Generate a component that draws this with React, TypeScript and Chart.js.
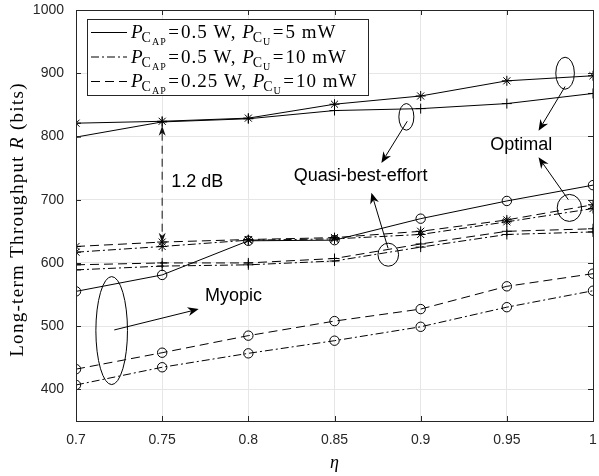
import React, { useEffect, useRef } from "react";
import { Chart, registerables } from "chart.js";

Chart.register(...registerables);

// ---- data ----
const etas = [0.7, 0.75, 0.8, 0.85, 0.9, 0.95, 1];
const xTickLabels = ["0.7", "0.75", "0.8", "0.85", "0.9", "0.95", "1"];
const yTicks = [400, 500, 600, 700, 800, 900, 1000];

// P_CAP = 0.5 W, P_CU = 5 mW (solid)
const optimalA = [821, 824, 829, 851, 864, 888, 896];
const quasiA = [799, 823, 828, 841, 844, 852, 868];
const myopicA = [555, 581, 635, 636, 670, 698, 723];
// P_CAP = 0.5 W, P_CU = 10 mW (dash-dot)
const optimalB = [617, 626, 636, 638, 645, 665, 686];
const quasiB = [589, 595, 597, 603, 625, 645, 649];
const myopicB = [407, 435, 457, 477, 499, 530, 556];
// P_CAP = 0.25 W, P_CU = 10 mW (dashed)
const optimalC = [626, 633, 637, 640, 650, 668, 692];
const quasiC = [597, 600, 600, 607, 630, 650, 654];
const myopicC = [432, 458, 485, 508, 527, 563, 583];

// annotation anchors (data coordinates)
const ellipses = [
  { x: 0.7207, y: 493, rx: 15.8, ry: 54 },
  { x: 0.8917, y: 831, rx: 7.5, ry: 13.3 },
  { x: 0.8812, y: 613, rx: 10.3, ry: 11.5 },
  { x: 0.9838, y: 900, rx: 9.3, ry: 16 },
  { x: 0.9863, y: 687, rx: 12.2, ry: 13.5 },
];
const arrows = [
  { x1: 0.7222, y1: 494, x2: 0.7712, y2: 527 },
  { x1: 0.8922, y1: 824, x2: 0.8772, y2: 758 },
  { x1: 0.8811, y1: 623, x2: 0.8714, y2: 711 },
  { x1: 0.9838, y1: 879, x2: 0.9684, y2: 809 },
  { x1: 0.9857, y1: 700, x2: 0.9684, y2: 767 },
];
const labels = [
  { text: "1.2 dB", x: 0.7553, y: 728 },
  { text: "Quasi-best-effort", x: 0.8263, y: 737 },
  { text: "Optimal", x: 0.9404, y: 786 },
  { text: "Myopic", x: 0.7749, y: 547 },
];
const gapLine = { x: 0.75, top: 817, bottom: 632 };

const legendRows = [
  { ap: "0.5", cu: "5", dash: [] as number[] },
  { ap: "0.5", cu: "10", dash: [8, 3, 2, 3] },
  { ap: "0.25", cu: "10", dash: [9, 5] },
];

const SANS = "'Liberation Sans', Arial, sans-serif";
const SERIF = "'Liberation Serif', 'DejaVu Serif', serif";

function mk(arr: number[], dash: number[], style: string, radius: number) {
  return {
    data: etas.map((x, i) => ({ x, y: arr[i] })),
    borderColor: "#000",
    borderWidth: 1,
    borderDash: dash,
    pointStyle: style,
    pointRadius: radius,
    pointBorderColor: "#000",
    pointBackgroundColor: "rgba(0,0,0,0)",
    pointBorderWidth: 1,
    fill: false,
    tension: 0,
  };
}

function arrowHead(ctx: CanvasRenderingContext2D, x1: number, y1: number, x2: number, y2: number, len: number, w: number) {
  const ang = Math.atan2(y2 - y1, x2 - x1);
  const c = Math.cos(ang), s = Math.sin(ang);
  const bx = x2 - len * c, by = y2 - len * s;
  const nx = x2 - len * 0.7 * c, ny = y2 - len * 0.7 * s;
  ctx.beginPath();
  ctx.moveTo(x2, y2);
  ctx.lineTo(bx - w * s, by + w * c);
  ctx.lineTo(nx, ny);
  ctx.lineTo(bx + w * s, by - w * c);
  ctx.closePath();
  ctx.fill();
  return { nx, ny };
}

const overlay = {
  id: "overlay",
  afterDraw(chart: any) {
    const ctx: any = chart.ctx;
    const xs = chart.scales.x, ys = chart.scales.y;
    const a = chart.chartArea;
    const px = (v: number) => xs.getPixelForValue(v);
    const py = (v: number) => ys.getPixelForValue(v);
    ctx.save();
    ctx.strokeStyle = "#000";
    ctx.fillStyle = "#000";
    ctx.lineWidth = 1;
    // ellipses
    ellipses.forEach((e) => {
      ctx.beginPath();
      ctx.ellipse(px(e.x), py(e.y), e.rx, e.ry, 0, 0, Math.PI * 2);
      ctx.stroke();
    });
    // arrows
    arrows.forEach((r) => {
      const x1 = px(r.x1), y1 = py(r.y1), x2 = px(r.x2), y2 = py(r.y2);
      const { nx, ny } = arrowHead(ctx, x1, y1, x2, y2, 11, 4.5);
      ctx.beginPath();
      ctx.moveTo(x1, y1);
      ctx.lineTo(nx, ny);
      ctx.stroke();
    });
    // 1.2 dB double arrow
    {
      const gx = px(gapLine.x), t = py(gapLine.top), b = py(gapLine.bottom);
      ctx.fillStyle = "#111";
      arrowHead(ctx, gx, b, gx, t, 10, 3.5);
      arrowHead(ctx, gx, t, gx, b, 10, 3.5);
      ctx.strokeStyle = "#111";
      ctx.setLineDash([8, 5]);
      ctx.beginPath();
      ctx.moveTo(gx, t + 7);
      ctx.lineTo(gx, b - 7);
      ctx.stroke();
      ctx.setLineDash([]);
    }
    // text labels
    ctx.fillStyle = "#000";
    ctx.font = `18px ${SANS}`;
    ctx.textBaseline = "middle";
    ctx.textAlign = "left";
    labels.forEach((l) => ctx.fillText(l.text, px(l.x), py(l.y)));

    // box + inward ticks
    ctx.strokeStyle = "#262626";
    ctx.lineWidth = 1;
    ctx.strokeRect(Math.round(a.left) + 0.5, Math.round(a.top) + 0.5, Math.round(a.right - a.left), Math.round(a.bottom - a.top));
    const tl = 5;
    ctx.beginPath();
    etas.forEach((v) => {
      const x = Math.round(px(v)) + 0.5;
      ctx.moveTo(x, a.bottom);
      ctx.lineTo(x, a.bottom - tl);
      ctx.moveTo(x, a.top);
      ctx.lineTo(x, a.top + tl);
    });
    yTicks.forEach((v) => {
      const y = Math.round(py(v)) + 0.5;
      ctx.moveTo(a.left, y);
      ctx.lineTo(a.left + tl, y);
      ctx.moveTo(a.right, y);
      ctx.lineTo(a.right - tl, y);
    });
    ctx.stroke();

    // legend
    const lx = a.left + 11, ly = a.top + 9, lw = 281, lh = 76;
    ctx.fillStyle = "#fff";
    ctx.fillRect(lx, ly, lw, lh);
    ctx.strokeStyle = "#262626";
    ctx.strokeRect(Math.round(lx) + 0.5, Math.round(ly) + 0.5, lw, lh);
    legendRows.forEach((row, i) => {
      const cy = ly + 13 + i * 24.5;
      ctx.strokeStyle = "#000";
      ctx.setLineDash(row.dash);
      ctx.beginPath();
      ctx.moveTo(lx + 4, cy + 0.5);
      ctx.lineTo(lx + 40, cy + 0.5);
      ctx.stroke();
      ctx.setLineDash([]);
      let x = lx + 44;
      const base = cy + 6;
      ctx.fillStyle = "#000";
      ctx.textBaseline = "alphabetic";
      ctx.letterSpacing = "1px";
      const put = (txt: string, font: string, yy: number) => {
        ctx.font = font;
        ctx.fillText(txt, x, yy);
        x += ctx.measureText(txt).width;
      };
      const P = (sub: string) => {
        put("P", `italic 19px ${SERIF}`, base);
        x -= 2;
        put("C", `14px ${SERIF}`, base + 4);
        put(sub, `10px ${SERIF}`, base + 7);
      };
      const eq = () => {
        x += 1.5;
        put("=", `19px ${SERIF}`, base);
        x += 1;
      };
      P("AP");
      eq();
      put(row.ap + " W, ", `19px ${SERIF}`, base);
      P("U");
      eq();
      put(row.cu + " mW", `19px ${SERIF}`, base);
      ctx.letterSpacing = "0px";
    });

    // axis titles
    ctx.fillStyle = "#000";
    ctx.textBaseline = "middle";
    ctx.textAlign = "center";
    ctx.font = `italic 18px ${SERIF}`;
    ctx.fillText("η", (a.left + a.right) / 2, 463);
    ctx.save();
    ctx.translate(18, (a.top + a.bottom) / 2 + 4);
    ctx.rotate(-Math.PI / 2);
    ctx.letterSpacing = "1.3px";
    const parts = [
      { t: "Long-term Throughput ", f: `19px ${SERIF}` },
      { t: "R", f: `italic 19px ${SERIF}` },
      { t: " (bits)", f: `19px ${SERIF}` },
    ];
    let total = 0;
    parts.forEach((p) => { ctx.font = p.f; total += ctx.measureText(p.t).width; });
    let cx = -total / 2;
    ctx.textAlign = "left";
    parts.forEach((p) => { ctx.font = p.f; ctx.fillText(p.t, cx, 0); cx += ctx.measureText(p.t).width; });
    ctx.letterSpacing = "0px";
    ctx.restore();
    ctx.restore();
  },
};

export default function App() {
  const ref = useRef<HTMLCanvasElement>(null);
  useEffect(() => {
    document.body.style.margin = "0";
    const chart = new Chart(ref.current!, {
      type: "line",
      data: {
        datasets: [
          mk(optimalA, [], "star", 5),
          mk(quasiA, [], "cross", 5),
          mk(myopicA, [], "circle", 4.7),
          mk(optimalB, [8, 3, 2, 3], "star", 5),
          mk(quasiB, [8, 3, 2, 3], "cross", 5),
          mk(myopicB, [8, 3, 2, 3], "circle", 4.7),
          mk(optimalC, [9, 5], "star", 5),
          mk(quasiC, [9, 5], "cross", 5),
          mk(myopicC, [9, 5], "circle", 4.7),
        ] as any,
      },
      options: {
        animation: false,
        responsive: false,
        layout: { padding: { top: 10, right: 2.5, left: 0, bottom: 0 } },
        plugins: { legend: { display: false }, tooltip: { enabled: false } },
        scales: {
          x: {
            type: "linear",
            min: 0.7,
            max: 1,
            afterBuildTicks: (s: any) => { s.ticks = etas.map((v) => ({ value: v })); },
            afterFit: (s: any) => { s.height = 55; s.paddingLeft = 0; s.paddingRight = 0; },
            ticks: {
              callback: (_v: any, i: number) => xTickLabels[i],
              font: { family: SANS, size: 14 },
              color: "#262626",
              padding: 11,
              maxRotation: 0,
              autoSkip: false,
            },
            grid: { color: "#e6e6e6", drawTicks: false },
            border: { display: false },
          },
          y: {
            type: "linear",
            min: 350,
            max: 1000,
            afterBuildTicks: (s: any) => { s.ticks = yTicks.map((v) => ({ value: v })); },
            afterFit: (s: any) => { s.width = 76; s.paddingTop = 0; s.paddingBottom = 0; },
            ticks: {
              callback: (v: any) => String(v),
              font: { family: SANS, size: 14 },
              color: "#262626",
              padding: 12,
            },
            grid: { color: "#e6e6e6", drawTicks: false },
            border: { display: false },
          },
        },
      },
      plugins: [overlay],
    });
    return () => chart.destroy();
  }, []);
  return (
    <div style={{ position: "absolute", left: 0, top: 0, width: 599, height: 476, background: "#fff" }}>
      <canvas ref={ref} width={599} height={476} style={{ display: "block" }} />
    </div>
  );
}
